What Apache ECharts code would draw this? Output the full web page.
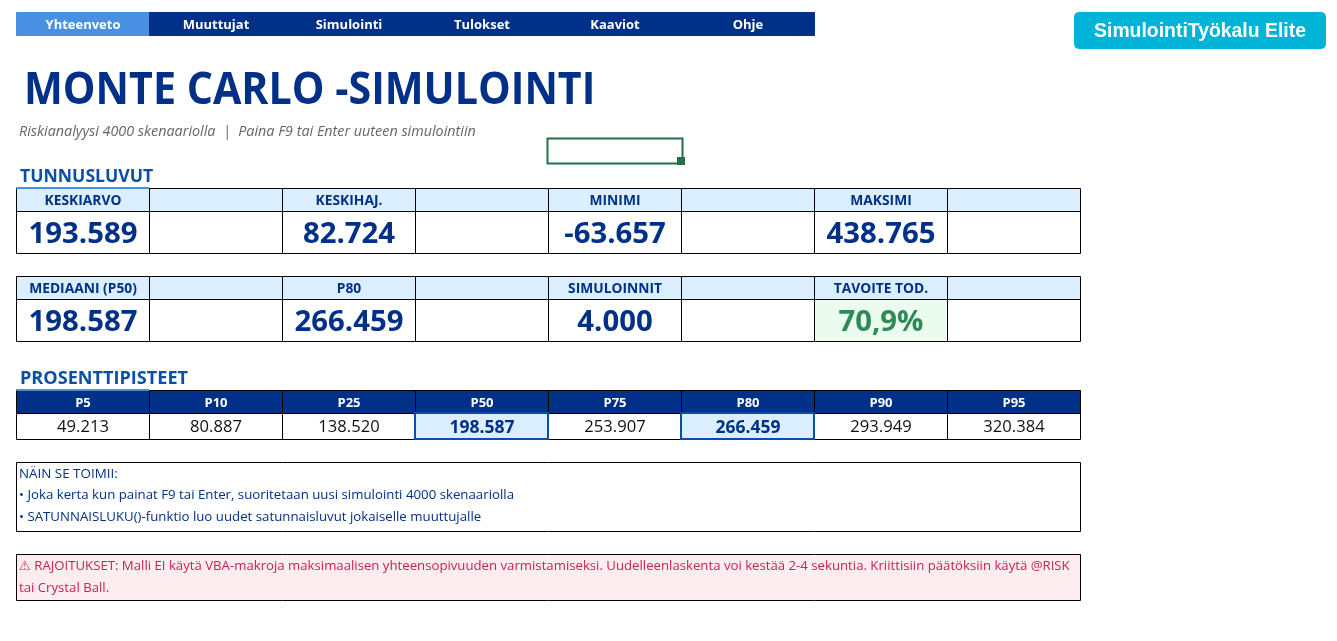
<!DOCTYPE html>
<html>
<head>
<meta charset="utf-8">
<title>Monte Carlo -simulointi</title>
<style>
  html, body { margin: 0; padding: 0; background: #fff; }
  #main { width: 1337px; height: 641px; }
</style>
<script src="https://cdn.jsdelivr.net/npm/echarts@6/dist/echarts.min.js"></script>
</head>
<body>
<div id="main"></div>
<script>
// values
const navLabels = ['Yhteenveto', 'Muuttujat', 'Simulointi', 'Tulokset', 'Kaaviot', 'Ohje']
const kpiLabelsTop = ['KESKIARVO', '', 'KESKIHAJ.', '', 'MINIMI', '', 'MAKSIMI', '']
const kpiValuesTop = ['193.589', '', '82.724', '', '-63.657', '', '438.765', '']
const kpiLabelsBottom = ['MEDIAANI (P50)', '', 'P80', '', 'SIMULOINNIT', '', 'TAVOITE TOD.', '']
const kpiValuesBottom = ['198.587', '', '266.459', '', '4.000', '', '70,9%', '']
const percentileLabels = ['P5', 'P10', 'P25', 'P50', 'P75', 'P80', 'P90', 'P95']
const percentileValues = ['49.213', '80.887', '138.520', '198.587', '253.907', '266.459', '293.949', '320.384']
const infoLines = [
  'NÄIN SE TOIMII:',
  '• Joka kerta kun painat F9 tai Enter, suoritetaan uusi simulointi 4000 skenaariolla',
  '• SATUNNAISLUKU()-funktio luo uudet satunnaisluvut jokaiselle muuttujalle'
]
const alertLines = [
  '⚠ RAJOITUKSET: Malli EI käytä VBA-makroja maksimaalisen yhteensopivuuden varmistamiseksi. Uudelleenlaskenta voi kestää 2-4 sekuntia. Kriittisiin päätöksiin käytä @RISK',
  'tai Crystal Ball.'
]

const FONT = '"Open Sans", "Noto Sans", "DejaVu Sans", sans-serif'
const NAVY = '#003087'
const LIGHT = '#daeefe'
const BLUE = '#0a4fa6'

const grids = []
const xAxes = []
const yAxes = []
const series = []

// one row of cells = one grid with a category axis, custom series draws the cells
function addRow(labels, top, height, width, look) {
  const idx = grids.length
  grids.push({ left: 16, top: top, width: width, height: height, containLabel: false })
  xAxes.push({ type: 'category', gridIndex: idx, show: false, data: labels.map((_, i) => i) })
  yAxes.push({ type: 'category', gridIndex: idx, show: false, data: [0] })
  series.push({
    type: 'custom',
    xAxisIndex: idx,
    yAxisIndex: idx,
    silent: true,
    clip: false,
    encode: { x: 0, y: 1 },
    data: labels.map((_, i) => [i, 0]),
    renderItem: (params, api) => {
      const i = params.dataIndex
      const c = api.coord([i, 0])
      const s = api.size([1, 1])
      const st = look(i, labels[i])
      // thick borders sit on whole pixels, thin ones on half pixels
      const off = st.lineWidth > 1 ? 0 : 0.5
      const x0 = Math.round(c[0] - s[0] / 2) + off
      const x1 = Math.round(c[0] + s[0] / 2) + off
      const y0 = Math.round(c[1] - s[1] / 2) + off
      const y1 = Math.round(c[1] + s[1] / 2) + off
      return {
        type: 'group',
        children: [
          {
            type: 'rect',
            z2: st.lineWidth > 1 ? 5 : 1,
            shape: { x: x0, y: y0, width: x1 - x0, height: y1 - y0 },
            style: { fill: st.fill, stroke: st.stroke || st.fill, lineWidth: st.lineWidth || 1 }
          },
          {
            type: 'text',
            z2: 10,
            style: {
              text: labels[i],
              x: (x0 + x1) / 2 + (st.dx || 0),
              y: (y0 + y1) / 2 + (st.dy || 0),
              align: 'center',
              verticalAlign: 'middle',
              fill: st.color,
              font: st.font
            }
          }
        ]
      }
    }
  })
}

const kpiHead = () => ({ fill: LIGHT, stroke: '#000', color: NAVY, dy: 1, font: 'bold 13.8px ' + FONT })

addRow(navLabels, 12, 23, 798, (i) => ({
  fill: i === 0 ? '#4a90e2' : NAVY,
  color: '#fff',
  dy: 1,
  font: 'bold 13px ' + FONT
}))
addRow(kpiLabelsTop, 188, 23, 1064, kpiHead)
addRow(kpiValuesTop, 211, 42, 1064, () => ({
  fill: '#fff',
  stroke: '#000',
  color: NAVY,
  dy: 2.5,
  font: 'bold 29.3px ' + FONT
}))
addRow(kpiLabelsBottom, 276, 23, 1064, kpiHead)
addRow(kpiValuesBottom, 299, 42, 1064, (i) => {
  const green = i === 6
  return {
    fill: green ? '#ebfbef' : '#fff',
    stroke: '#000',
    color: green ? '#2e8b57' : NAVY,
    dy: 2.5,
    font: 'bold 29.3px ' + FONT
  }
})
addRow(percentileLabels, 390, 23, 1064, () => ({
  fill: NAVY,
  stroke: '#000',
  color: '#fff',
  dy: 1,
  font: 'bold 13px ' + FONT
}))
addRow(percentileValues, 413, 26, 1064, (i) => {
  const mark = i === 3 || i === 5
  return {
    fill: mark ? LIGHT : '#fff',
    stroke: mark ? BLUE : '#000',
    lineWidth: mark ? 2 : 1,
    color: mark ? NAVY : '#111',
    dx: mark ? 0.5 : 0,
    dy: mark ? 2 : 1,
    font: mark ? 'bold 17.5px ' + FONT : '16.6px ' + FONT
  }
})

function noteBox(top, height, fill) {
  return {
    type: 'rect',
    z: 1,
    shape: { x: 16.5, y: top + 0.5, width: 1064, height: height },
    style: { fill: fill, stroke: '#000', lineWidth: 1 }
  }
}

function textLine(text, x, y, color, font, scaleX) {
  return {
    type: 'text',
    z: 2,
    x: x,
    y: y,
    scaleX: scaleX || 1,
    style: { text: text, fill: color, font: font, verticalAlign: 'middle' }
  }
}

const option = {
  backgroundColor: '#fff',
  animation: false,
  grid: grids,
  xAxis: xAxes,
  yAxis: yAxes,
  series: series,
  graphic: [
    { type: 'rect', z: 1, shape: { x: 1074, y: 12, width: 252, height: 37, r: 5 }, style: { fill: '#00b4d8' } },
    { type: 'text', z: 2, x: 1200, y: 31.5, style: { text: 'SimulointiTyökalu Elite', fill: '#fff', font: 'bold 19.4px "Liberation Sans", Arial, sans-serif', align: 'center', verticalAlign: 'middle' } },

    textLine('MONTE CARLO -SIMULOINTI', 24, 91, NAVY, 'bold 45px ' + FONT, 0.915),
    textLine('Riskianalyysi 4000 skenaariolla  |  Paina F9 tai Enter uuteen simulointiin', 19, 132, '#666', 'italic 14px ' + FONT, 1.025),
    textLine('TUNNUSLUVUT', 20, 176.5, BLUE, 'bold 17.6px ' + FONT),
    textLine('PROSENTTIPISTEET', 20, 378.5, BLUE, 'bold 18.1px ' + FONT),

    // section accent under the headings
    { type: 'rect', z: 6, shape: { x: 16, y: 187, width: 133, height: 2 }, style: { fill: '#4a90d9' } },
    { type: 'rect', z: 6, shape: { x: 16, y: 389, width: 133, height: 2 }, style: { fill: '#4a90d9' } },

    // selected sheet cell
    { type: 'rect', z: 3, shape: { x: 547.5, y: 138.5, width: 135, height: 25 }, style: { fill: 'none', stroke: '#217346', lineWidth: 2 } },
    { type: 'rect', z: 4, shape: { x: 677, y: 157, width: 8, height: 8 }, style: { fill: '#217346' } },

    noteBox(462, 69, '#fff'),
    textLine(infoLines[0], 19, 474.5, NAVY, '13.4px ' + FONT),
    textLine(infoLines[1], 19, 495.5, NAVY, '13.25px ' + FONT),
    textLine(infoLines[2], 19, 517.5, NAVY, '13.25px ' + FONT),

    noteBox(554, 46, '#fdecf0'),
    textLine(alertLines[0], 19, 566.5, '#c8234f', '13.2px ' + FONT),
    textLine(alertLines[1], 19, 588.5, '#c8234f', '13.2px ' + FONT)
  ]
}

const chart = echarts.init(document.getElementById('main'))
chart.setOption(option)
</script>
</body>
</html>
